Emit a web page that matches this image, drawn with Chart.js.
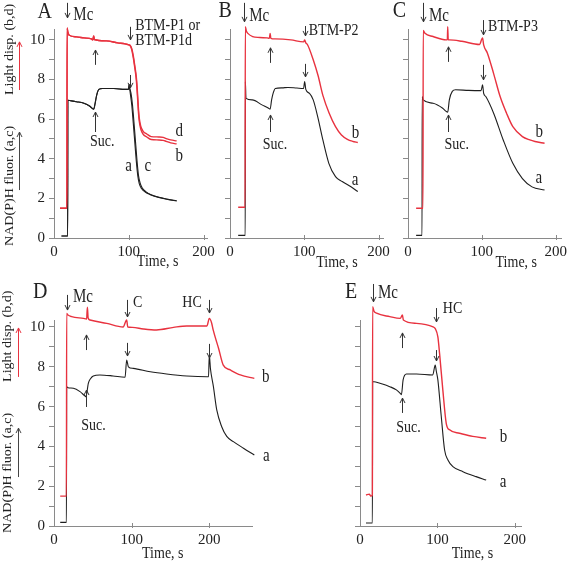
<!DOCTYPE html>
<html><head><meta charset="utf-8">
<script src="https://cdn.jsdelivr.net/npm/chart.js@4.4.1/dist/chart.umd.min.js"></script>
<style>
html,body{margin:0;padding:0;background:#fff;}
#wrap{position:relative;width:572px;height:562px;overflow:hidden;background:#fff;}
canvas{position:absolute;}
</style></head><body>
<div id="wrap">
<canvas id="cA" width="220" height="272" style="left:0px;top:0px;width:220px;height:272px"></canvas>
<canvas id="cB" width="183" height="272" style="left:212px;top:0px;width:183px;height:272px"></canvas>
<canvas id="cC" width="184" height="272" style="left:388px;top:0px;width:184px;height:272px"></canvas>
<canvas id="cD" width="290" height="284" style="left:0px;top:278px;width:290px;height:284px"></canvas>
<canvas id="cE" width="232" height="284" style="left:340px;top:278px;width:232px;height:284px"></canvas>
</div>
<script>
// ---------- data: [time (s), value] ----------
const xTicks = [0, 100, 200];
const yTicks = [0, 1, 2, 3, 4, 5, 6, 7, 8, 9, 10];

// Panel A
const A_b = [[8,1.5],[17.3,1.5],[17.5,10.6],[18.5,10.4],[20,10.25],[30,10.15],[40,10.1],[50,10.05],[52,10.0],[53,10.2],[54,10.02],[70,9.95],[85,9.85],[95,9.8],[100,9.75],[102,9.7],[104,9.5],[106,9.1],[108,8.6],[110,8.0],[111,7.5],[112,6.9],[113,6.3],[114,5.9],[116,5.5],[119,5.25],[124,5.1],[130,4.97],[140,4.95],[146,4.93],[150,4.88],[156,4.8],[164,4.75]];
const A_d = [[8,1.5],[17.3,1.5],[17.5,10.6],[18.5,10.4],[20,10.25],[30,10.15],[40,10.1],[50,10.05],[52,10.0],[53,10.2],[54,10.02],[70,9.95],[85,9.85],[95,9.8],[100,9.75],[102,9.72],[104,9.55],[106,9.2],[108,8.7],[110,8.15],[111,7.7],[112,7.1],[113,6.5],[114,6.05],[116,5.65],[119,5.4],[124,5.25],[130,5.12],[140,5.1],[146,5.08],[150,5.02],[156,4.95],[164,4.9]];
const A_a = [[10,0.1],[18.3,0.1],[18.5,6.95],[22,6.93],[30,6.88],[40,6.8],[48,6.65],[53,6.5],[55,6.8],[57,7.2],[60,7.5],[65,7.55],[80,7.55],[95,7.5],[99.5,7.5],[100.5,7.75],[101,7.6],[102,7.3],[104,6.7],[106,5.8],[108,4.85],[110,3.9],[112,3.15],[114,2.75],[117,2.5],[122,2.32],[128,2.2],[140,2.05],[152,1.95],[164,1.87]];
const A_c = [[10,0.1],[18.3,0.1],[18.5,6.95],[22,6.93],[30,6.88],[40,6.8],[48,6.65],[53,6.5],[55,6.8],[57,7.2],[60,7.5],[65,7.55],[80,7.55],[95,7.5],[99.5,7.5],[100.5,7.75],[101,7.6],[103,7.3],[105,6.7],[107,5.8],[109,4.85],[111,3.9],[113,3.15],[115,2.8],[118,2.52],[123,2.33],[129,2.2],[140,2.06],[152,1.96],[164,1.88]];

// Panel B
const B_b = [[11,1.55],[20.3,1.55],[20.6,10.67],[22,10.45],[24,10.33],[30.5,10.17],[40,10.12],[50,10.1],[53,10.08],[54,10.33],[55,10.08],[60.6,10.05],[82,10.0],[99,9.9],[100.5,10.0],[102,9.85],[104,9.78],[112,9.0],[118.5,8.2],[125,7.2],[133.5,6.3],[142,5.62],[150,5.2],[158,4.98],[165,4.88],[172,4.82]];
const B_a = [[11,0.13],[20.5,0.13],[20.7,7.9],[21.5,7.05],[30,6.97],[43,6.72],[52,6.55],[54,6.5],[56,6.97],[58,7.3],[61,7.55],[70,7.58],[78,7.6],[90,7.57],[99,7.55],[100.5,7.9],[102,7.5],[107,7.3],[112,6.97],[118,6.13],[125,4.95],[133,3.77],[142,3.1],[151,2.85],[160,2.65],[172,2.35]];

// Panel C
const C_b = [[11,1.5],[20.3,1.5],[20.6,10.48],[23,10.33],[34,10.17],[51.7,10.0],[53.3,10.0],[53.8,10.67],[54.5,10.0],[56,10.0],[73,9.93],[96.8,9.77],[101,10.1],[102.5,9.75],[107.6,9.33],[116,8.3],[124.8,7.14],[133.5,6.3],[142,5.62],[155,5.12],[165,4.95],[172,4.87],[185,4.78]];
const C_a = [[11,0.13],[19,0.13],[19.2,7.14],[20.5,6.97],[34,6.8],[47,6.55],[51.7,6.39],[53.8,6.35],[56,6.97],[60,7.4],[64.5,7.48],[82,7.45],[99,7.44],[101,7.73],[102.5,7.3],[105.4,7.14],[116,6.3],[129,4.95],[142,3.77],[155,3.0],[168,2.58],[185,2.42]];

// Panel D
const D_b = [[8,1.5],[16,1.5],[16.3,10.68],[18,10.6],[22.8,10.52],[38,10.43],[42,10.4],[43,10.99],[44,10.45],[46.4,10.35],[68,10.18],[89,10.0],[93.6,10.35],[95,10.0],[101,9.98],[115,9.9],[132,9.85],[154,9.98],[171,10.05],[197,10.05],[200,10.43],[203,10.2],[205,9.85],[212,8.92],[218,8.08],[227,7.84],[240,7.59],[258,7.42]];
const D_a = [[8,0.18],[16,0.18],[16.3,7.0],[18,6.95],[25,6.92],[33.5,6.75],[40,6.53],[41.2,6.5],[44.2,7.17],[47,7.4],[50.6,7.54],[59,7.59],[76,7.54],[91.5,7.47],[93.6,8.34],[95.8,8.0],[102,7.92],[124,7.75],[145,7.64],[171,7.54],[197,7.5],[199,7.5],[200,8.59],[201.5,7.9],[205.3,7.0],[209.6,5.83],[216,4.99],[222.5,4.5],[231,4.24],[244,3.91],[258,3.57]];

// Panel E
const E_b = [[7.7,1.56],[12,1.6],[14,1.5],[16,1.56],[16.3,11.02],[18,10.8],[21.4,10.69],[38.5,10.52],[52,10.43],[54.8,10.6],[56,10.35],[73,10.18],[94.4,10.0],[97.2,9.92],[100.6,9.5],[102.8,8.67],[107,6.84],[111.4,5.16],[115.7,4.83],[128.5,4.66],[145.7,4.5],[163,4.41]];
const E_a = [[7.7,0.15],[16,0.15],[16.3,7.25],[18,7.25],[25.7,7.17],[38.5,7.0],[47,6.84],[52.6,6.64],[53.5,6.6],[55.7,7.34],[60,7.64],[73,7.64],[94,7.59],[97.2,8.09],[98.5,7.8],[100.6,7.34],[105,5.5],[109.3,3.82],[113.6,3.32],[120,2.98],[133,2.73],[150,2.48],[163,2.31]];

// ---------- styling ----------
const FONT = "'Liberation Serif','Times New Roman',serif";
const RED = '#e8323f';
const BLACK = '#1e1e1e';
const AXIS = '#8a8a8a';
const SY = 1.2;

function drawText(ctx, s, px, py, size, color, rot) {
  ctx.save();
  ctx.translate(px, py);
  ctx.scale(1, rot ? 1.08 : SY);
  if (rot) ctx.rotate(-Math.PI / 2);
  ctx.font = size + 'px ' + FONT;
  ctx.fillStyle = color;
  ctx.textAlign = 'left';
  ctx.textBaseline = rot ? 'middle' : 'alphabetic';
  ctx.fillText(s, 0, 0);
  ctx.restore();
}
function drawArrow(ctx, px, py1, py2, color) {
  ctx.save();
  ctx.strokeStyle = color; ctx.lineWidth = 1;
  px = Math.round(px) + 0.5;
  const d = py2 > py1 ? -1 : 1;
  ctx.beginPath();
  ctx.moveTo(px, py1); ctx.lineTo(px, py2);
  ctx.moveTo(px - 2.5, py2 + d * 5); ctx.lineTo(px, py2); ctx.lineTo(px + 2.5, py2 + d * 5);
  ctx.stroke();
  ctx.restore();
}
const notesPlugin = {
  id: 'notes',
  afterDraw(chart, args, opts) {
    const ctx = chart.ctx, xs = chart.scales.x, ys = chart.scales.y;
    ctx.save();
    ctx.strokeStyle = AXIS; ctx.lineWidth = 1;
    xTicks.filter(v => v > 0 && v <= xs.max).forEach(v => {
      const px = Math.round(xs.getPixelForValue(v)) + 0.5;
      ctx.beginPath(); ctx.moveTo(px, ys.bottom - 3); ctx.lineTo(px, ys.bottom + 2); ctx.stroke();
    });
    ctx.restore();
    (opts.items || []).forEach(it => {
      const px = xs.getPixelForValue(it.x);
      if (it.k === 'a') drawArrow(ctx, px, ys.getPixelForValue(it.y1), ys.getPixelForValue(it.y2), it.c || '#333');
      else drawText(ctx, it.s, px, ys.getPixelForValue(it.y), it.f, it.c || '#222', it.k === 'v');
    });
  }
};

function yTitle() {
  return [
    {k:'v', s:'NAD(P)H fluor. (a,c)', x:-59.3, y:-0.4, f:13},
    {k:'v', s:'Light disp. (b,d)', x:-59.3, y:7.22, f:13},
    {k:'a', x:-46.4, y1:2.42, y2:5.35, c:'#444'},
    {k:'a', x:-46.4, y1:7.47, y2:9.9, c:RED}
  ];
}

function makeChart(id, cfg) {
  const toXY = arr => arr.map(p => ({x: p[0], y: p[1]}));
  const datasets = cfg.series.map(s => ({
    data: toXY(s.d), borderColor: s.c, borderWidth: s.w, showLine: true,
    pointRadius: 0, fill: false, cubicInterpolationMode: 'monotone', clip: false
  }));
  return new Chart(document.getElementById(id), {
    type: 'scatter',
    data: {datasets},
    options: {
      responsive: false, animation: false, devicePixelRatio: 1,
      layout: {padding: cfg.pad},
      plugins: {legend: {display: false}, tooltip: {enabled: false}, notes: {items: cfg.notes}},
      scales: {
        x: {
          type: 'linear', min: 0, max: cfg.xmax,
          afterBuildTicks: s => { s.ticks = xTicks.filter(v => v <= cfg.xmax).map(v => ({value: v})); },
          afterFit: s => { s.height = cfg.xh; },
          grid: {drawOnChartArea: false, drawTicks: false},
          border: {color: AXIS, width: 1},
          ticks: {font: {size: 15, family: FONT}, color: '#222', padding: 5, maxRotation: 0, autoSkip: false}
        },
        y: {
          type: 'linear', min: 0, max: cfg.ymax,
          afterBuildTicks: s => { s.ticks = yTicks.map(v => ({value: v})); },
          afterFit: s => { s.width = cfg.yw; },
          grid: {drawOnChartArea: false, drawTicks: true, tickLength: 5, color: AXIS},
          border: {color: AXIS, width: 1},
          ticks: {font: {size: 15, family: FONT}, color: '#222', padding: 4, autoSkip: false,
                  callback: v => (cfg.ylabels && v % 2 === 0) ? String(v) : ''}
        }
      }
    },
    plugins: [notesPlugin]
  });
}

const RW = 1.4, KW = 1.1;

makeChart('cA', {
  xmax: 205, ymax: 10.55, yw: 54, xh: 34, ylabels: true,
  pad: {left: 0, top: 29, right: 7, bottom: 0},
  series: [{d: A_d, c: RED, w: RW}, {d: A_b, c: RED, w: RW}, {d: A_a, c: BLACK, w: KW}, {d: A_c, c: BLACK, w: KW}],
  notes: [
    {k:'t', s:'A', x:-21.9, y:11.11, f:20},
    {k:'a', x:18, y1:11.87, y2:11.11},
    {k:'t', s:'Mc', x:25.8, y:11.01, f:15},
    {k:'a', x:55.4, y1:8.74, y2:9.49},
    {k:'a', x:55.4, y1:5.35, y2:6.36},
    {k:'t', s:'Suc.', x:48, y:4.65, f:14},
    {k:'a', x:101.8, y1:10.66, y2:10.0},
    {k:'t', s:'BTM-P1 or', x:108.5, y:10.5, f:14},
    {k:'t', s:'BTM-P1d', x:108.5, y:9.75, f:14},
    {k:'a', x:101.8, y1:8.23, y2:7.58},
    {k:'t', s:'a', x:95.4, y:3.38, f:15},
    {k:'t', s:'c', x:121, y:3.38, f:15},
    {k:'t', s:'d', x:162.4, y:5.15, f:15},
    {k:'t', s:'b', x:162.4, y:3.89, f:15},
    {k:'t', s:'Time, s', x:110.8, y:-1.41, f:14}
  ].concat(yTitle())
});

makeChart('cB', {
  xmax: 206, ymax: 10.55, yw: 18, xh: 34, ylabels: false,
  pad: {left: 0, top: 29, right: 5, bottom: 0},
  series: [{d: B_b, c: RED, w: RW}, {d: B_a, c: BLACK, w: KW}],
  notes: [
    {k:'t', s:'B', x:-15.5, y:11.16, f:20},
    {k:'a', x:19.3, y1:11.87, y2:10.91},
    {k:'t', s:'Mc', x:25.8, y:10.96, f:15},
    {k:'a', x:54.1, y1:8.84, y2:9.6},
    {k:'a', x:54.1, y1:5.35, y2:6.21},
    {k:'t', s:'Suc.', x:44.1, y:4.49, f:14},
    {k:'a', x:100.5, y1:10.7, y2:10.2},
    {k:'t', s:'BTM-P2', x:106, y:10.25, f:14},
    {k:'a', x:100.5, y1:8.79, y2:8.13},
    {k:'t', s:'b', x:163.7, y:5.05, f:15},
    {k:'t', s:'a', x:163.7, y:2.68, f:15},
    {k:'t', s:'Time, s', x:116, y:-1.46, f:14}
  ]
});

makeChart('cC', {
  xmax: 208, ymax: 10.55, yw: 20, xh: 34, ylabels: false,
  pad: {left: 0, top: 29, right: 3, bottom: 0},
  series: [{d: C_b, c: RED, w: RW}, {d: C_a, c: BLACK, w: KW}],
  notes: [
    {k:'t', s:'C', x:-20.6, y:11.16, f:20},
    {k:'a', x:20.6, y1:11.87, y2:10.91},
    {k:'t', s:'Mc', x:28.4, y:10.96, f:15},
    {k:'a', x:54.1, y1:8.89, y2:9.65},
    {k:'a', x:54.1, y1:5.35, y2:6.21},
    {k:'t', s:'Suc.', x:49.3, y:4.49, f:14},
    {k:'a', x:101.8, y1:11.0, y2:10.25},
    {k:'t', s:'BTM-P3', x:108.5, y:10.45, f:14},
    {k:'a', x:101.8, y1:8.74, y2:7.98},
    {k:'t', s:'b', x:172.7, y:5.1, f:15},
    {k:'t', s:'a', x:172.7, y:2.78, f:15},
    {k:'t', s:'Time, s', x:118.6, y:-1.46, f:14}
  ]
});

makeChart('cD', {
  xmax: 255, ymax: 10.35, yw: 54, xh: 36, ylabels: true,
  pad: {left: 0, top: 42, right: 38, bottom: 0},
  series: [{d: D_b, c: RED, w: RW}, {d: D_a, c: BLACK, w: KW}],
  notes: [
    {k:'t', s:'D', x:-27.1, y:11.46, f:20},
    {k:'a', x:16.8, y1:11.61, y2:10.85},
    {k:'t', s:'Mc', x:24.5, y:11.26, f:15},
    {k:'a', x:41.2, y1:8.84, y2:9.6},
    {k:'a', x:41.2, y1:5.98, y2:6.83},
    {k:'t', s:'Suc.', x:35.1, y:4.82, f:14},
    {k:'a', x:94.1, y1:11.36, y2:10.5},
    {k:'t', s:'C', x:101.8, y:11.0, f:14},
    {k:'a', x:94.1, y1:9.2, y2:8.54},
    {k:'t', s:'HC', x:165.2, y:11.0, f:14},
    {k:'a', x:199.7, y1:11.36, y2:10.7},
    {k:'a', x:199.7, y1:9.15, y2:8.44},
    {k:'t', s:'b', x:268, y:7.24, f:15},
    {k:'t', s:'a', x:269.3, y:3.27, f:15},
    {k:'t', s:'Time, s', x:113.4, y:-1.61, f:14},
    {k:'v', s:'NAD(P)H fluor. (a,c)', x:-59.3, y:-0.35, f:13},
    {k:'v', s:'Light disp. (b,d)', x:-59.3, y:7.24, f:13},
    {k:'a', x:-46.4, y1:2.46, y2:4.92, c:'#444'},
    {k:'a', x:-46.4, y1:7.49, y2:9.95, c:RED}
  ]
});

makeChart('cE', {
  xmax: 208, ymax: 10.35, yw: 20, xh: 36, ylabels: false,
  pad: {left: 0, top: 42, right: 51, bottom: 0},
  series: [{d: E_b, c: RED, w: RW}, {d: E_a, c: BLACK, w: KW}],
  notes: [
    {k:'t', s:'E', x:-19.3, y:11.46, f:20},
    {k:'a', x:16.8, y1:12.16, y2:11.26},
    {k:'t', s:'Mc', x:23.2, y:11.46, f:15},
    {k:'a', x:54.1, y1:8.94, y2:9.7},
    {k:'a', x:54.1, y1:5.68, y2:6.43},
    {k:'t', s:'Suc.', x:46.7, y:4.72, f:14},
    {k:'t', s:'HC', x:107, y:10.7, f:14},
    {k:'a', x:97.9, y1:10.95, y2:10.25},
    {k:'a', x:97.9, y1:8.84, y2:8.29},
    {k:'t', s:'b', x:180.4, y:4.22, f:15},
    {k:'t', s:'a', x:180.4, y:1.96, f:15},
    {k:'t', s:'Time, s', x:118.6, y:-1.61, f:14}
  ]
});
</script>
</body></html>
